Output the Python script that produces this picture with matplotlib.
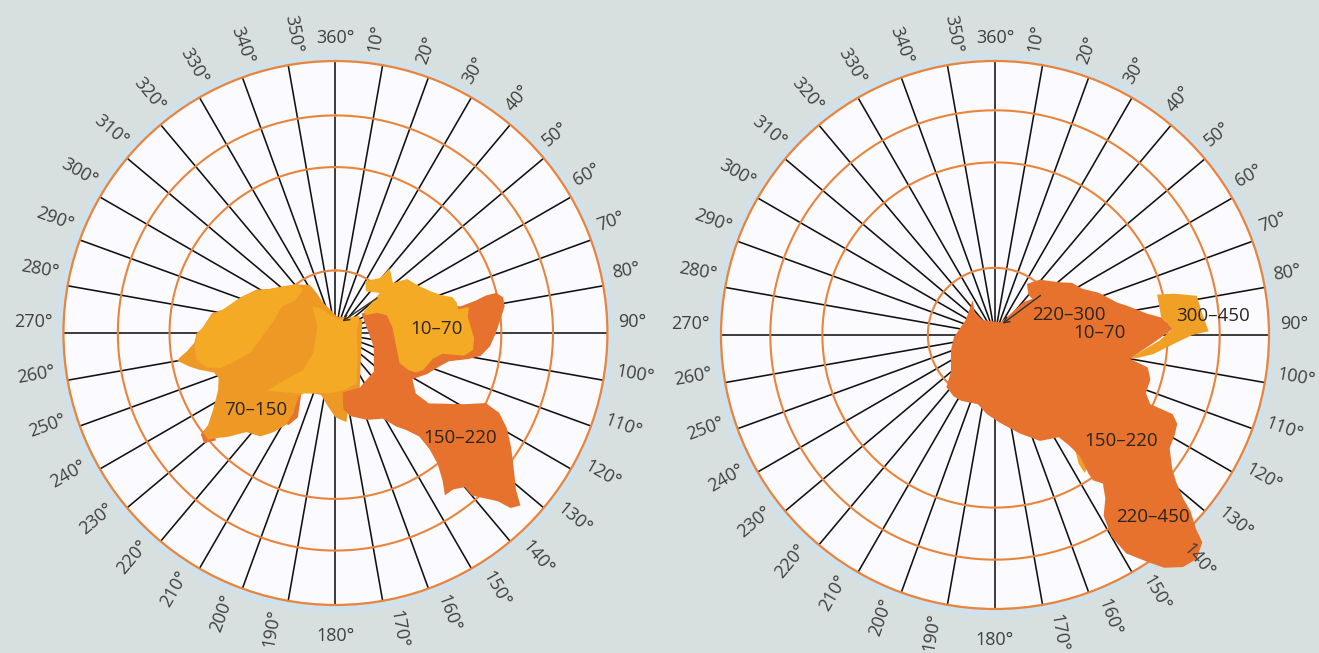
import numpy as np
import matplotlib
matplotlib.use('Agg')
import matplotlib.pyplot as plt
from matplotlib.transforms import ScaledTranslation

# ---------------- data (bearing in degrees clockwise from north, range as fraction of outer circle) -------------
bearings = list(range(10, 361, 10))
angle_labels = [f"{b}°" for b in bearings]

rings_left = [0.23, 0.61, 0.80]
rings_right = [0.245, 0.63, 0.82]

# Left diagram: zones
zone70_150_b = [6, 347, 338, 335, 332, 321, 311, 304, 299, 291, 282, 279, 272, 270, 266, 263, 261, 260, 257, 255,
                252, 249, 244, 238, 234, 233, 230, 229, 226, 222, 216, 212, 208, 208, 210, 208, 194, 186, 180, 173,
                168, 156, 64, 44]
zone70_150_r = [0.06, 0.09, 0.12, 0.16, 0.20, 0.23, 0.26, 0.29, 0.33, 0.37, 0.42, 0.46, 0.49, 0.51, 0.52, 0.55,
                0.58, 0.59, 0.55, 0.52, 0.47, 0.46, 0.48, 0.53, 0.58, 0.61, 0.61, 0.59, 0.55, 0.49, 0.47, 0.43,
                0.38, 0.33, 0.27, 0.25, 0.23, 0.27, 0.31, 0.33, 0.25, 0.22, 0.11, 0.08]
rim1_b = [234, 233, 230, 228, 231]
rim1_r = [0.58, 0.62, 0.63, 0.59, 0.58]
rim2_b = [213, 209, 204, 207, 209, 208]
rim2_r = [0.27, 0.26, 0.34, 0.38, 0.38, 0.33]
light1_b = [264, 269, 272, 278, 282, 291, 298, 304, 311, 321, 323, 309, 296, 282, 267, 257, 254, 253, 255, 259]
light1_r = [0.52, 0.51, 0.49, 0.46, 0.42, 0.37, 0.33, 0.29, 0.26, 0.23, 0.20, 0.19, 0.22, 0.23, 0.27, 0.32, 0.39,
            0.44, 0.49, 0.52]
light2_b = [319, 288, 228, 221, 228, 230, 211, 182, 169, 157, 137, 82, 55, 36, 10, 343, 331]
light2_r = [0.13, 0.07, 0.11, 0.18, 0.27, 0.33, 0.26, 0.22, 0.21, 0.20, 0.12, 0.08, 0.11, 0.07, 0.05, 0.07, 0.10]
zone10_70_b = [30, 39, 40, 49, 53, 60, 66, 70, 73, 76, 79, 79, 83, 92, 97, 100, 101, 105, 113, 116, 117, 115, 103,
               84, 71, 64, 60, 53, 48, 36]
zone10_70_r = [0.22, 0.26, 0.31, 0.28, 0.33, 0.35, 0.38, 0.41, 0.45, 0.46, 0.46, 0.50, 0.49, 0.51, 0.51, 0.48, 0.40,
               0.37, 0.35, 0.33, 0.30, 0.26, 0.23, 0.21, 0.20, 0.17, 0.13, 0.13, 0.22, 0.19]
zone150_220_b = [53, 62, 69, 69, 78, 77, 76, 76, 78, 81, 85, 90, 95, 99, 101, 104, 108, 114, 121, 127, 127, 119, 115,
                 116, 119, 123, 127, 131, 133, 135, 136, 140, 140, 143, 146, 144, 142, 141, 141, 144, 147, 151, 160,
                 170, 174, 173, 156, 135, 110]
zone150_220_r = [0.12, 0.17, 0.21, 0.33, 0.47, 0.53, 0.57, 0.61, 0.63, 0.63, 0.61, 0.59, 0.57, 0.54, 0.50, 0.43,
                 0.40, 0.37, 0.33, 0.37, 0.43, 0.54, 0.61, 0.67, 0.72, 0.77, 0.82, 0.88, 0.93, 0.91, 0.86, 0.78,
                 0.74, 0.72, 0.72, 0.67, 0.61, 0.55, 0.49, 0.44, 0.41, 0.36, 0.34, 0.31, 0.28, 0.22, 0.22, 0.20, 0.15]
arrow_left_b = [31, 50]
arrow_left_r = [0.05, 0.20]
labels_left = ["10–70", "70–150", "150–220"]
labels_left_b = [88, 226, 130]
labels_left_r = [0.37, 0.41, 0.60]

# Right diagram: zones
main_right_b = [23, 34, 41, 46, 40, 32, 39, 50, 56, 62, 68, 75, 78, 82, 84, 88, 92, 96, 100, 102, 106, 111, 114,
                114, 114, 116, 119, 123, 127, 129, 131, 132, 134, 135, 138, 141, 144, 146, 149, 150, 149, 146, 144,
                146, 146, 145, 146, 148, 157, 166, 177, 186, 194, 207, 214, 223, 230, 251, 267, 298, 327, 318, 321]
main_right_r = [0.05, 0.08, 0.16, 0.19, 0.19, 0.22, 0.26, 0.30, 0.34, 0.36, 0.41, 0.46, 0.50, 0.56, 0.61, 0.65,
                0.59, 0.54, 0.50, 0.57, 0.59, 0.59, 0.62, 0.66, 0.71, 0.74, 0.75, 0.76, 0.81, 0.85, 0.91, 0.96,
                1.02, 1.07, 1.10, 1.09, 1.05, 1.00, 0.93, 0.85, 0.77, 0.72, 0.67, 0.64, 0.61, 0.54, 0.49, 0.44,
                0.42, 0.37, 0.32, 0.29, 0.26, 0.27, 0.27, 0.26, 0.21, 0.17, 0.15, 0.12, 0.15, 0.11, 0.07]
zone300_450_b = [76, 77, 79, 84, 89, 90, 93, 97, 99, 100, 97, 92, 88, 84]
zone300_450_r = [0.61, 0.67, 0.75, 0.76, 0.78, 0.72, 0.65, 0.58, 0.53, 0.50, 0.53, 0.60, 0.65, 0.61]
speck_right_b = [145, 143, 145, 147, 147]
speck_right_r = [0.51, 0.53, 0.59, 0.60, 0.56]
arrow_right_b = [34, 49]
arrow_right_r = [0.05, 0.22]
labels_right = ["220–300", "10–70", "300–450", "150–220", "220–450"]
labels_right_b = [75, 89, 85, 130, 139]
labels_right_r = [0.28, 0.38, 0.80, 0.60, 0.88]

# ---------------- style -------------
BG = '#d8e0df'
FACE = '#fbfbff'
RING = '#e8843c'
DARK = '#e6722d'
MED = '#ee9826'
LIGHT = '#f4aa24'
YEL = '#f1a026'
TXT = '#2b2520'
LBL = '#404040'
FONT = ['Open Sans', 'DejaVu Sans']

fig = plt.figure(figsize=(13.19, 6.53), dpi=100, facecolor=BG)


def setup(rect, rings):
    ax = fig.add_axes(rect, projection='polar')
    ax.set_theta_zero_location('N')
    ax.set_theta_direction(-1)
    ax.set_ylim(0, 1)
    ax.set_xticks([])
    ax.set_yticks([])
    ax.grid(False)
    ax.set_facecolor(FACE)
    ax.spines['polar'].set_color(RING)
    ax.spines['polar'].set_linewidth(1.6)
    ax.spines['polar'].set_zorder(2.6)
    th = np.linspace(0, 2 * np.pi, 721)
    ax.plot(th, np.full_like(th, 1.012), color='#cfe2ee', lw=6, alpha=0.8, zorder=0.5, clip_on=False)
    for r in rings:
        ax.plot(th, np.full_like(th, r), color=RING, lw=1.5, zorder=2.5)
    for b in bearings:
        ax.plot([np.radians(b)] * 2, [0, 1], color='#111111', lw=1.15, zorder=2.4)
    for b, s in zip(bearings, angle_labels):
        a = 90 - b
        rot = a
        while rot > 90:
            rot -= 180
        while rot <= -90:
            rot += 180
        kw = dict(rotation_mode='anchor', fontsize=13, color=LBL, family=FONT, clip_on=False, zorder=9)
        if b == 360:
            ax.text(np.radians(b), 1.05, s, ha='center', va='bottom', rotation=0, **kw)
        elif b == 180:
            ax.text(np.radians(b), 1.08, s, ha='center', va='top', rotation=0, **kw)
        else:
            up = np.radians(rot)
            off = ScaledTranslation(-np.sin(up) * 0.11, np.cos(up) * 0.11, fig.dpi_scale_trans)
            ax.text(np.radians(b), 1.04, s, ha='left' if b < 180 else 'right', va='center',
                    rotation=rot, transform=ax.transData + off, **kw)
    return ax


def zone(ax, bs, rs, color, z):
    ax.fill(np.radians(bs), rs, color=color, lw=0, zorder=z, clip_on=False)


# left diagram
axL = setup([0.0481, 0.0735, 0.4124, 0.8331], rings_left)
zone(axL, rim1_b, rim1_r, DARK, 3)
zone(axL, rim2_b, rim2_r, DARK, 3)
zone(axL, zone70_150_b, zone70_150_r, MED, 4)
zone(axL, zone150_220_b, zone150_220_r, DARK, 5)
zone(axL, light1_b, light1_r, LIGHT, 6)
zone(axL, light2_b, light2_r, LIGHT, 6)
zone(axL, zone10_70_b, zone10_70_r, LIGHT, 6)
axL.annotate('', xy=(np.radians(arrow_left_b[0]), arrow_left_r[0]),
             xytext=(np.radians(arrow_left_b[1]), arrow_left_r[1]),
             arrowprops=dict(arrowstyle='->', color='#333333', lw=1.0, shrinkA=0, shrinkB=0), zorder=7)
for s, b, r in zip(labels_left, labels_left_b, labels_left_r):
    axL.text(np.radians(b), r, s, ha='center', va='center', fontsize=13.5, color=TXT, family=FONT, zorder=8)

# right diagram
axR = setup([0.5466, 0.0674, 0.4155, 0.8392], rings_right)
zone(axR, speck_right_b, speck_right_r, YEL, 3)
zone(axR, zone300_450_b, zone300_450_r, YEL, 3)
zone(axR, main_right_b, main_right_r, DARK, 4)
axR.annotate('', xy=(np.radians(arrow_right_b[0]), arrow_right_r[0]),
             xytext=(np.radians(arrow_right_b[1]), arrow_right_r[1]),
             arrowprops=dict(arrowstyle='->', color='#333333', lw=1.0, shrinkA=0, shrinkB=0), zorder=7)
for s, b, r in zip(labels_right, labels_right_b, labels_right_r):
    axR.text(np.radians(b), r, s, ha='center', va='center', fontsize=13.5, color=TXT, family=FONT, zorder=8)

fig.savefig('out.png', dpi=100, facecolor=BG)
